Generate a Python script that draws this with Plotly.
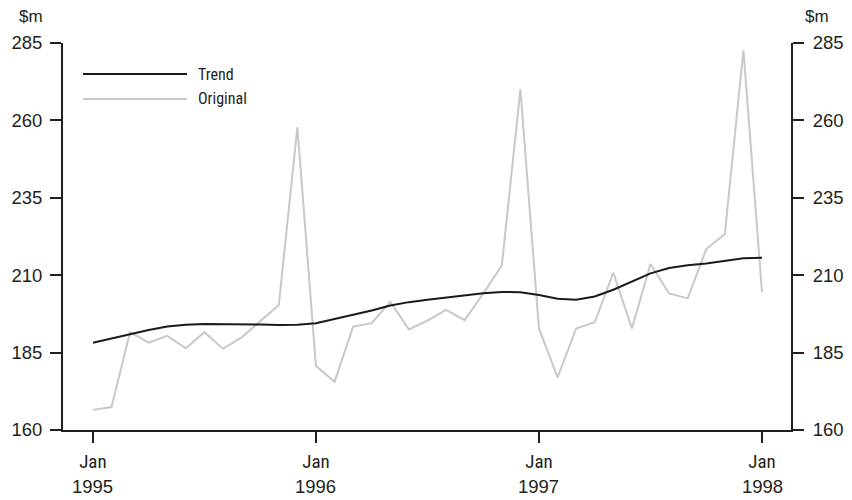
import plotly.graph_objects as go

# Monthly index: 0 = Jan 1995 ... 36 = Jan 1998
months = list(range(37))

original = [166.5, 167.4, 191.6, 188.2, 190.4, 186.4, 191.6, 186.2, 189.9, 195.0,
            200.4, 257.8, 180.7, 175.6, 193.4, 194.5, 201.4, 192.5, 195.3, 198.8,
            195.5, 204.1, 213.1, 270.0, 192.8, 177.0, 192.8, 194.8, 210.8, 192.8,
            213.6, 204.1, 202.5, 218.4, 223.3, 282.7, 204.5]

trend = [188.2, 189.6, 191.0, 192.3, 193.4, 194.0, 194.2, 194.2, 194.2, 194.1,
         193.9, 194.0, 194.5, 195.8, 197.1, 198.6, 200.2, 201.3, 202.1, 202.8,
         203.5, 204.2, 204.6, 204.5, 203.6, 202.4, 202.1, 203.1, 205.3, 208.0,
         210.6, 212.3, 213.2, 213.8, 214.6, 215.5, 215.6]

x_tickvals = [0, 12, 24, 36]
x_month_labels = ["Jan", "Jan", "Jan", "Jan"]
x_year_labels = ["1995", "1996", "1997", "1998"]
y_ticks = [160, 185, 210, 235, 260, 285]
y_range = [160, 285]
x_range = [-1.61, 37.56]

series_names = ["Trend", "Original"]
trend_color = "#1a1a1a"
orig_color = "#c8c8c8"
axis_color = "#231f20"
text_color = "#231f20"
FONT = "Liberation Sans, Arial, sans-serif"
NARROW = "Liberation Sans Narrow, Roboto Condensed, Arial Narrow, sans-serif"

# page has an 8px body margin; compensate so the plot lands at the reference pixels
OFF = 8
W, H = 852 - OFF, 500 - OFF
L, R, T, B = 63 - OFF, 61, 43 - OFF, 70
PW, PH = W - L - R, H - T - B


def px_to_paper_x(px):
    return (px - OFF - L) / PW


def px_to_paper_y(py):
    return (H - B - (py - OFF)) / PH


fig = go.Figure()
fig.add_trace(go.Scatter(x=months, y=original, mode="lines", name=series_names[1],
                         line=dict(color=orig_color, width=2), showlegend=False))
fig.add_trace(go.Scatter(x=months, y=trend, mode="lines", name=series_names[0],
                         line=dict(color=trend_color, width=2), showlegend=False))
# invisible trace to carry the right-hand axis
fig.add_trace(go.Scatter(x=months, y=trend, mode="lines", yaxis="y2",
                         line=dict(width=0), opacity=0, hoverinfo="skip", showlegend=False))

axis_common = dict(showgrid=False, zeroline=False, showline=True, linecolor=axis_color,
                   linewidth=2, ticks="outside", ticklen=11, tickwidth=2, tickcolor=axis_color,
                   automargin=False)

fig.update_layout(
    width=W, height=H,
    margin=dict(l=L, r=R, t=T, b=B),
    paper_bgcolor="white", plot_bgcolor="white",
    xaxis=dict(range=x_range, tickvals=x_tickvals, ticktext=x_month_labels,
               ticklabelstandoff=2, tickfont=dict(family=NARROW, size=19, color=text_color),
               **axis_common),
    yaxis=dict(range=y_range, tickvals=y_ticks, ticklabelstandoff=4,
               tickfont=dict(family=FONT, size=18.5, color=text_color), **axis_common),
    yaxis2=dict(range=y_range, tickvals=y_ticks, overlaying="y", side="right",
                ticklabelstandoff=5, tickfont=dict(family=FONT, size=18.5, color=text_color),
                **axis_common),
    showlegend=False,
)

# Year labels under month labels
for xv, yr in zip(x_tickvals, x_year_labels):
    fig.add_annotation(x=xv, y=px_to_paper_y(486), xref="x", yref="paper", text=yr,
                       showarrow=False, yanchor="middle",
                       font=dict(family=FONT, size=18.5, color=text_color))

# Units labels
for ux in (31, 817):
    fig.add_annotation(x=px_to_paper_x(ux), y=px_to_paper_y(17), xref="paper", yref="paper",
                       text="$m", showarrow=False, xanchor="center", yanchor="middle",
                       font=dict(family=FONT, size=17, color=text_color))

# Manual legend
legend_items = [(series_names[0], trend_color, 74), (series_names[1], orig_color, 99)]
for name, col, py in legend_items:
    yp = px_to_paper_y(py)
    fig.add_shape(type="line", xref="paper", yref="paper",
                  x0=px_to_paper_x(83), x1=px_to_paper_x(187), y0=yp, y1=yp,
                  line=dict(color=col, width=2))
    fig.add_annotation(x=px_to_paper_x(196), y=yp, xref="paper", yref="paper", text=name,
                       showarrow=False, xanchor="left", yanchor="middle",
                       font=dict(family=NARROW, size=16, color=text_color))

fig.write_html("out.html")
